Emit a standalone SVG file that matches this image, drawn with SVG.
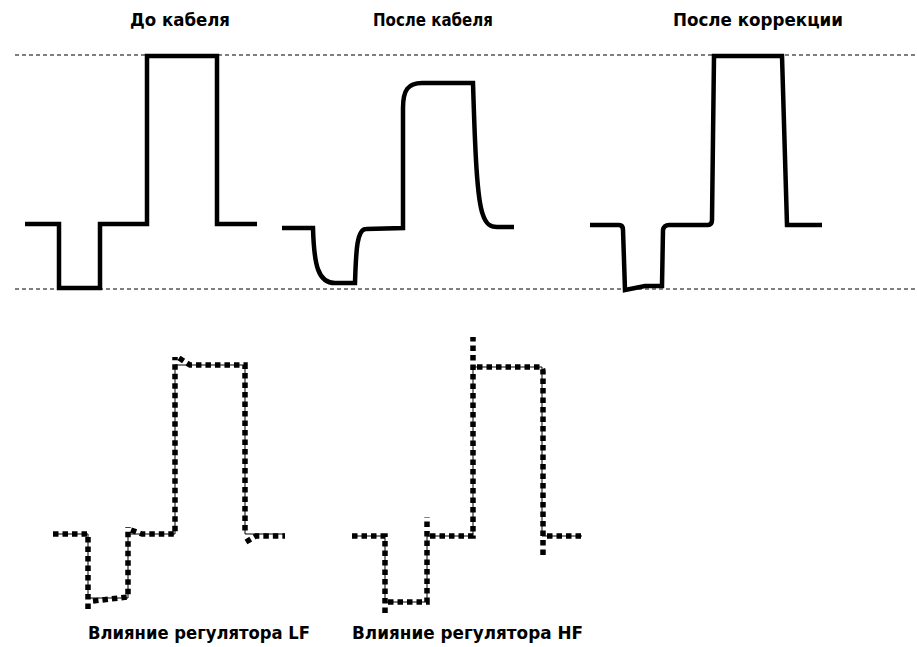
<svg xmlns="http://www.w3.org/2000/svg" width="917" height="647" viewBox="0 0 917 647">
<style>
.ref{stroke:#000;stroke-width:1;stroke-dasharray:4 3;fill:none}
.wave{stroke:#000;stroke-width:4.5;fill:none;stroke-linejoin:miter}
.thin{stroke:#000;stroke-width:1;fill:none}
.dots{stroke:#000;stroke-width:5.5;fill:none;stroke-dasharray:5.5 4}
.title{font-family:"DejaVu Sans","Liberation Sans",sans-serif;font-weight:bold;font-size:17px;fill:#000}
.label{font-family:"DejaVu Sans","Liberation Sans",sans-serif;font-weight:bold;font-size:17px;fill:#000}
</style>
<rect width="917" height="647" fill="#fff"/>
<g id="reference-lines">
<line class="ref" x1="15" y1="55" x2="917" y2="55"/>
<line class="ref" x1="15" y1="289" x2="917" y2="289"/>
</g>
<g id="before-cable">
<path class="wave" d="M25,224 H59 V288 H100 V224 H147 V56 H217 V224 H257"/>
<text class="title" x="130" y="26" textLength="100" lengthAdjust="spacingAndGlyphs">До кабеля</text>
</g>
<g id="after-cable">
<path class="wave" d="M282,228 H313 C314,265 318,283 335,283 H355 C356,250 357,229 366,229 L403,228 V108 C403,90 408,83 422,83 H473 C475,150 477,200 483,215 C486,224 490,227 497,227 H514"/>
<text class="title" x="373" y="26" textLength="120" lengthAdjust="spacingAndGlyphs">После кабеля</text>
</g>
<g id="after-correction">
<path class="wave" d="M590,225 H619 Q623,225 623,230 L625,290 L645,286 H662 L663,230 Q664,225 669,225 H708 Q712,225 712,220 L714,56 H782 L787,225 H822"/>
<text class="title" x="673" y="26" textLength="170" lengthAdjust="spacingAndGlyphs">После коррекции</text>
</g>
<g id="lf-effect">
<path class="thin" d="M53,534 H88 V598 H128 V534 H175 V365 H245 V534 H285"/>
<path class="dots" d="M53,534 H88 V612 M93,601 L128,597 V527 M131,530 L142,534 H175 V357 M179,358 L190,365 H245 V534 M246,542 L256,536 H285"/>
<text class="label" x="88" y="639" textLength="222" lengthAdjust="spacingAndGlyphs">Влияние регулятора LF</text>
</g>
<g id="hf-effect">
<path class="thin" d="M352,536 H385 V602 H427 V536 H473 V367 H542 V536 H582"/>
<path class="dots" d="M352,536 H385 V614 M388,602 H427 V517 M430,536 H473 V337 M477,367 H540 Q543,367 543,372 V558 M547,536 H582"/>
<text class="label" x="352" y="639" textLength="231" lengthAdjust="spacingAndGlyphs">Влияние регулятора HF</text>
</g>
</svg>
